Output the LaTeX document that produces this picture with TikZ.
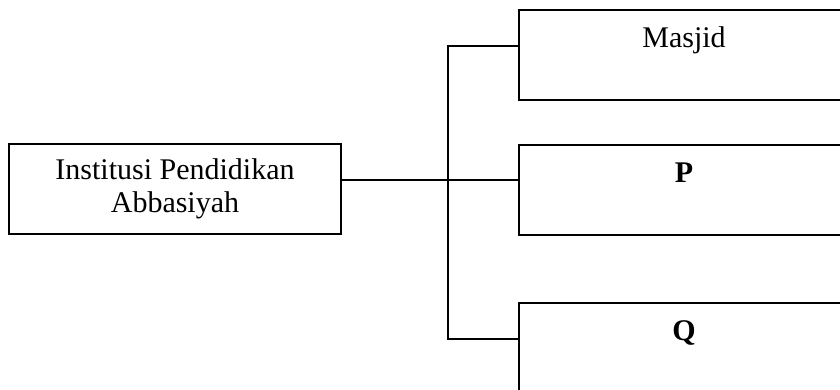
\documentclass[tikz,border=0pt]{standalone}
\usepackage{fontspec}
\setmainfont{Liberation Serif}
\usepackage{tikz}

\tikzset{
    leftbox/.style={draw, line width=0.8pt, inner sep=0pt, align=center,
        minimum width=132.8pt, minimum height=36pt, anchor=north west},
    rightbox/.style={draw, line width=0.8pt, inner sep=0pt, align=center,
        text width=132pt, text height=15pt, text depth=21pt, anchor=north west},
    conn/.style={line width=0.8pt}
}

\begin{document}
\begin{tikzpicture}[x=0.4pt, y=-0.4pt, font=\fontsize{12}{13.2}\selectfont]
        \useasboundingbox (0,0) rectangle (840,389);
        \clip (0,0) rectangle (840,389);

        % Nodi
        \node[leftbox] (inst) at (8,143) {Institusi Pendidikan\\Abbasiyah};
        \node[rightbox] (masjid) at (518,9) {Masjid};
        \node[rightbox] (P) at (518,144) {\textbf{P}};
        \node[rightbox] (Q) at (518,302) {\textbf{Q}};
        \coordinate (bus) at (448,179);

        % Collegamenti
        \draw[conn] ([yshift=3.6pt]inst.east) -- ([yshift=3.6pt]inst.east -| P.west); % ramo centrale
        \draw[conn] ([yshift=3.6pt]masjid.west) -| (bus) |- ([yshift=3.6pt]Q.west); % ramo sopra e sotto

    \end{tikzpicture}
\end{document}
